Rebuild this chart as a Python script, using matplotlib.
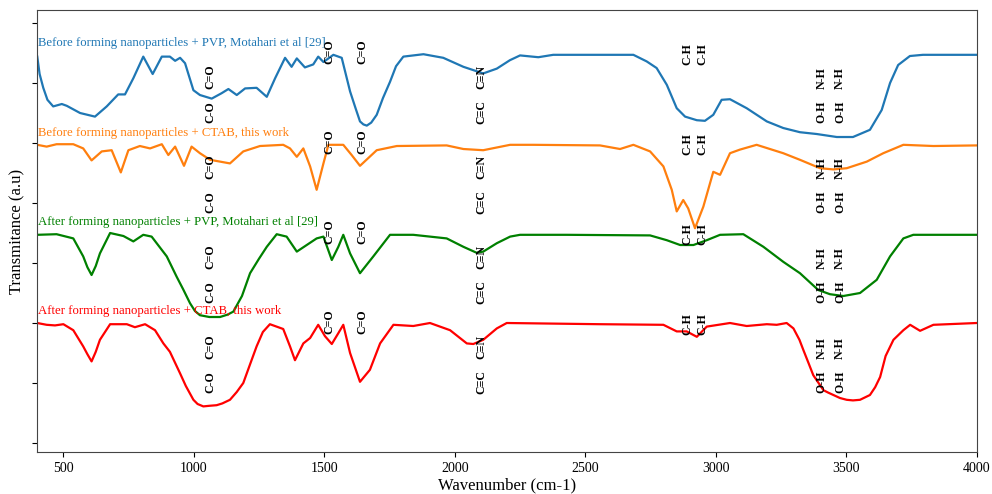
import matplotlib
matplotlib.use("Agg")
import matplotlib.pyplot as plt

plt.rcParams['font.family'] = ['Liberation Serif', 'DejaVu Serif']

# ---- data (wavenumber cm-1, offset transmittance a.u.) ----
blue_x = [401, 410, 424, 440, 462, 495, 514, 565, 622, 667, 711, 737, 769, 807, 843, 878, 909, 929, 948, 967,
          999, 1024, 1069, 1107, 1133, 1165, 1197, 1241, 1280, 1312, 1350, 1375, 1395, 1426, 1458,
          1477, 1497, 1535, 1567, 1599, 1620, 1637, 1650, 1663, 1680, 1701, 1725, 1752, 1775, 1803, 1880,
          1956, 2033, 2109, 2161,
          2211, 2250, 2320, 2377, 2684, 2735, 2773, 2812, 2850, 2882, 2927, 2958, 2990, 3022, 3054,
          3118, 3195, 3258, 3322, 3386, 3463, 3525, 3590, 3635, 3667, 3698, 3743, 3793, 4000]
blue_y = [6.44, 6.15, 5.92, 5.72, 5.61, 5.65, 5.62, 5.50, 5.44, 5.61, 5.81, 5.81, 6.08, 6.44, 6.15, 6.44, 6.44,
          6.37, 6.42, 6.33, 5.88, 5.80, 5.74, 5.83, 5.90, 5.80, 5.91, 5.92, 5.77, 6.08, 6.42, 6.27,
          6.41, 6.26, 6.31, 6.44, 6.35, 6.47, 6.42, 5.86, 5.58, 5.36, 5.31, 5.29, 5.34, 5.47, 5.75, 6.02,
          6.28, 6.44, 6.48, 6.42,
          6.27, 6.16, 6.24, 6.38, 6.46, 6.43, 6.47, 6.47, 6.36, 6.25, 5.97, 5.58, 5.44, 5.38, 5.37,
          5.47, 5.72, 5.73, 5.58, 5.36, 5.25, 5.18, 5.15, 5.10, 5.10, 5.22, 5.55, 6.00, 6.30, 6.45,
          6.47, 6.47]

orange_x = [401, 437, 475, 539, 577, 609, 648, 686, 721, 750, 794, 833, 878, 903, 929, 963, 992,
            1024, 1063, 1139, 1190, 1254, 1343, 1369, 1395, 1420, 1446, 1471, 1497, 1516, 1573, 1605,
            1637, 1701, 1778, 1969, 2033, 2109, 2212, 2301, 2556, 2633, 2684, 2748, 2799, 2831, 2850,
            2875, 2894, 2920, 2952, 2990, 3016, 3054, 3092, 3156, 3258, 3322, 3399, 3450, 3501, 3578,
            3641, 3718, 3833, 3999]
orange_y = [4.97, 4.94, 4.98, 4.98, 4.91, 4.71, 4.86, 4.88, 4.51, 4.88, 4.95, 4.91, 4.98, 4.80, 4.94,
            4.62, 4.94, 4.83, 4.72, 4.66, 4.86, 4.95, 4.97, 4.91, 4.77, 4.91, 4.61, 4.22, 4.66, 4.97,
            4.97, 4.80, 4.62, 4.88, 4.95, 4.96, 4.90, 4.88, 4.97, 4.97, 4.96, 4.90, 4.97, 4.86, 4.61,
            4.22, 3.86, 4.05, 3.91, 3.58, 3.94, 4.52, 4.47, 4.83, 4.89, 4.97, 4.83, 4.72, 4.58, 4.56,
            4.58, 4.69, 4.83, 4.97, 4.95, 4.96]

green_x = [401, 475, 539, 577, 593, 609, 625, 641, 680, 731, 769, 807, 839, 897, 935, 960, 986, 1005,
           1024, 1060, 1101, 1130, 1152, 1185,
           1216, 1250, 1280, 1318, 1356, 1395, 1433, 1471, 1497, 1529, 1554, 1573, 1599, 1637, 1688, 1752,
           1841, 1969, 2033, 2084, 2109, 2161, 2212, 2250, 2429, 2748, 2812, 2863, 2914, 2965, 3016,
           3105, 3182, 3258, 3322, 3392, 3437, 3488, 3552, 3616, 3667, 3718, 3756, 3999]
green_y = [3.47, 3.48, 3.41, 3.11, 2.93, 2.80, 2.95, 3.16, 3.50, 3.45, 3.36, 3.47, 3.44, 3.11, 2.77, 2.56,
           2.33, 2.20, 2.13, 2.10, 2.10, 2.14, 2.19, 2.45,
           2.83, 3.07, 3.27, 3.48, 3.44, 3.19, 3.30, 3.41, 3.44, 3.05, 3.27, 3.47, 3.16, 2.83,
           3.11, 3.47, 3.47, 3.41, 3.27, 3.17, 3.19, 3.33, 3.44, 3.47, 3.47, 3.46, 3.38, 3.30, 3.30,
           3.38, 3.47, 3.48, 3.27, 3.02, 2.83, 2.55, 2.48, 2.45, 2.50, 2.72, 3.11, 3.41, 3.47, 3.47]

red_x = [401, 437, 469, 501, 539, 577, 593, 609, 625, 641, 680, 744, 775, 814, 852, 884, 909, 948, 970,
         999, 1015, 1037, 1060, 1088, 1110, 1139, 1165, 1190, 1215, 1241, 1265, 1292, 1343, 1369, 1388,
         1420, 1446, 1477, 1503, 1529, 1554, 1573,
         1599, 1637, 1675, 1714, 1765, 1841, 1905, 1982, 2046, 2071, 2109, 2161, 2199, 2556, 2799,
         2850, 2888, 2927, 2965, 3054, 3118, 3195, 3233, 3271, 3297, 3320, 3335, 3355, 3373, 3412,
         3430, 3450, 3475, 3501, 3525, 3552, 3590, 3610, 3629, 3650, 3680, 3718, 3744, 3782, 3833, 3999]
red_y = [2.00, 1.97, 1.96, 1.98, 1.88, 1.61, 1.48, 1.36, 1.52, 1.72, 1.98, 1.98, 1.93, 1.98, 1.88, 1.66,
         1.52, 1.16, 0.95, 0.72, 0.65, 0.61, 0.62, 0.63, 0.66, 0.72, 0.85, 1.00, 1.30, 1.61, 1.85, 1.98,
         1.90, 1.61, 1.38, 1.66, 1.75, 1.97, 1.78, 1.65, 1.83, 1.97, 1.50, 1.02, 1.22, 1.66, 1.97,
         1.95, 2.00, 1.88, 1.66, 1.65, 1.72, 1.91, 2.00, 1.98, 1.97, 1.86, 1.86, 1.77, 1.94, 2.00,
         1.95, 1.98, 1.97, 2.00, 1.91, 1.72, 1.55, 1.33, 1.13, 0.88, 0.84, 0.80, 0.75, 0.72, 0.71,
         0.72, 0.80, 0.93, 1.10, 1.45, 1.72, 1.88, 1.97, 1.87, 1.97, 2.00]

series_names = ["Before forming nanoparticles + PVP, Motahari et al [29]",
                "Before forming nanoparticles + CTAB, this work",
                "After forming nanoparticles + PVP, Motahari et al [29]",
                "After forming nanoparticles + CTAB, this work"]
series_colors = ["#1f77b4", "#ff7f0e", "green", "red"]
series_label_y = [6.67, 5.17, 3.68, 2.20]

# band annotations (label, wavenumber, y centre within top band)
ann_labels = ["C-O", "C=O", "C=O", "C=O", "C\u2261C", "C\u2261N", "C-H", "C-H", "O-H", "N-H", "O-H", "N-H"]
ann_x = [1063, 1063, 1518, 1647, 2103, 2103, 2889, 2947, 3405, 3405, 3475, 3475]
ann_y = [5.52, 6.10, 6.53, 6.53, 5.52, 6.10, 6.48, 6.48, 5.52, 6.08, 5.52, 6.08]
band_shift = [0.0, -1.5, -3.0, -4.5]

x_ticks = [500, 1000, 1500, 2000, 2500, 3000, 3500, 4000]
y_ticks = [0, 1, 2, 3, 4, 5, 6, 7]

fig = plt.figure(figsize=(9.92, 4.94), dpi=100)
ax = fig.add_axes([37 / 992, 1 - 452 / 494, 940 / 992, 442 / 494])

for xs, ys, c in zip([blue_x, orange_x, green_x, red_x], [blue_y, orange_y, green_y, red_y], series_colors):
    ax.plot(xs, ys, color=c, lw=1.6, solid_joinstyle='round')

for name, c, yy in zip(series_names, series_colors, series_label_y):
    ax.text(405, yy, name, color=c, fontsize=9.2, va='center', ha='left')

for s in band_shift:
    for lab, xx, yy in zip(ann_labels, ann_x, ann_y):
        ax.text(xx, yy + s, lab, rotation=90, fontsize=8.6, fontweight='bold',
                ha='center', va='center', color='black')

ax.set_xlim(400, 4000)
ax.set_ylim(-0.15, 7.217)
ax.set_xticks(x_ticks)
ax.set_xticklabels([str(v) for v in x_ticks], fontsize=10)
ax.set_yticks(y_ticks)
ax.set_yticklabels([])
ax.set_xlabel("Wavenumber (cm-1)", fontsize=12, labelpad=2)
ax.set_ylabel("Transmitance (a.u)", fontsize=12, labelpad=1)
for sp in ax.spines.values():
    sp.set_color('#444444')

fig.savefig("out.png", dpi=100)
